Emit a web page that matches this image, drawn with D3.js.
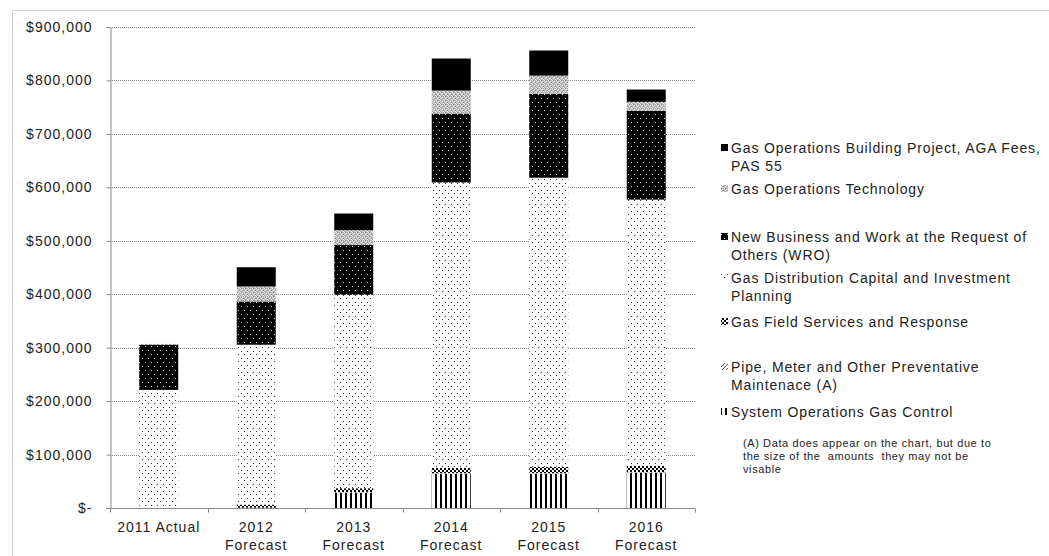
<!DOCTYPE html>
<html><head><meta charset="utf-8">
<script src="https://cdn.jsdelivr.net/npm/d3@7"></script>
<style>
html,body{margin:0;padding:0;background:#fff;}
svg{display:block;font-family:"Liberation Sans",Arial,sans-serif;}
</style></head>
<body><svg id="c" width="1049" height="556"></svg>
<script>
// ---- data ----
const categories = ["2011 Actual", "2012 Forecast", "2013 Forecast", "2014 Forecast", "2015 Forecast", "2016 Forecast"];
const systemOpsGasControl   = [0,      0,      29000,  64000,  64000,  66000];
const pipeMeterMaintenance  = [0,      500,    1000,   1000,   1000,   1000];
const gasFieldServices      = [0,      6000,   7000,   10000,  12000,  12000];
const gasDistributionCapital= [221000, 299000, 362000, 534000, 541000, 498000];
const newBusinessWRO        = [84000,  81000,  93000,  129000, 157000, 166000];
const gasOpsTechnology      = [2000,   28000,  28000,  43000,  34000,  17000];
const gasOpsBuilding        = [0,      36000,  31000,  60000,  47000,  23000];
const yTicks = [0, 100000, 200000, 300000, 400000, 500000, 600000, 700000, 800000, 900000];
const seriesNames = [
  "System Operations Gas Control",
  "Pipe, Meter and Other Preventative Maintenace (A)",
  "Gas Field Services and Response",
  "Gas Distribution Capital and Investment Planning",
  "New Business and Work at the Request of Others (WRO)",
  "Gas Operations Technology",
  "Gas Operations Building Project, AGA Fees, PAS 55"
];
const seriesValues = [systemOpsGasControl, pipeMeterMaintenance, gasFieldServices, gasDistributionCapital, newBusinessWRO, gasOpsTechnology, gasOpsBuilding];
const noteLines = ["(A) Data does appear on the chart, but due to", "the size of the  amounts  they may not be", "visable"];

// ---- build ----
const svg = d3.select("#c");
const defs = svg.append("defs");
const pid = ["pSys","pPipe","pField","pDist","pWro","pTech","pBldg"];

function pat(id, w, h, bg){ const p = defs.append("pattern").attr("id", id).attr("patternUnits","userSpaceOnUse").attr("width", w).attr("height", h);
  p.append("rect").attr("width", w).attr("height", h).attr("fill", bg); return p; }
let p;
p = pat("pSys", 5, 5, "#fff"); p.append("rect").attr("x",0).attr("y",0).attr("width",2).attr("height",5).attr("fill","#000");
p = pat("pPipe", 4, 4, "#fff"); p.append("path").attr("d","M0,4L4,0").attr("stroke","#555").attr("stroke-width",1);
p = pat("pField", 4, 4, "#fff"); p.append("rect").attr("width",2).attr("height",2).attr("fill","#000"); p.append("rect").attr("x",2).attr("y",2).attr("width",2).attr("height",2).attr("fill","#000");
p = pat("pDist", 6, 7, "#fff"); p.append("rect").attr("x",1).attr("y",1).attr("width",1).attr("height",1).attr("fill","#333"); p.append("rect").attr("x",4).attr("y",4).attr("width",1).attr("height",1).attr("fill","#333");
p = pat("pWro", 6, 8, "#000"); p.append("rect").attr("x",1).attr("y",2).attr("width",1).attr("height",1).attr("fill","#ddd"); p.append("rect").attr("x",4).attr("y",6).attr("width",1).attr("height",1).attr("fill","#ddd");
p = pat("pTech", 4, 4, "#b8b8b8");
[[0,0],[2,1],[1,2],[3,3]].forEach(d=>p.append("rect").attr("x",d[0]).attr("y",d[1]).attr("width",1).attr("height",1).attr("fill","#eee"));
[[1,0],[3,2]].forEach(d=>p.append("rect").attr("x",d[0]).attr("y",d[1]).attr("width",1).attr("height",1).attr("fill","#888"));
p = pat("pBldg", 4, 4, "#000");

// outer border
svg.append("rect").attr("x",12.5).attr("y",10.5).attr("width",1040).attr("height",600)
  .attr("fill","none").attr("stroke","#999").attr("stroke-dasharray","1,1");

const x = d3.scaleBand().domain(categories).range([110, 695]).paddingInner(0.6).paddingOuter(0.3);
const y = d3.scaleLinear().domain([0, 900000]).range([508, 27]);

// gridlines
svg.append("g").selectAll("line").data(yTicks.filter(d=>d>0)).join("line")
  .attr("x1",110).attr("x2",695).attr("y1",d=>Math.round(y(d))+0.5).attr("y2",d=>Math.round(y(d))+0.5)
  .attr("stroke","#888").attr("stroke-dasharray","1,1");

// y axis
const yAxis = d3.axisLeft(y).tickValues(yTicks).tickSize(4).tickPadding(12)
  .tickFormat(d => d === 0 ? "$-" : "$" + d3.format(",")(d));
const gy = svg.append("g").attr("transform","translate(110.5,0)").call(yAxis);
gy.select(".domain").attr("stroke","#888");
gy.selectAll(".tick line").attr("stroke","#888");
gy.selectAll(".tick text").attr("font-size","14px").attr("fill","#222").attr("font-family","Liberation Sans, Arial, sans-serif")
  .attr("letter-spacing","1px").attr("x",-18);

// stacked bars
const table = categories.map((c,i)=>{ const o={cat:c}; seriesNames.forEach((s,k)=>o[s]=seriesValues[k][i]); return o; });
const stack = d3.stack().keys(seriesNames)(table);
const gb = svg.append("g");
stack.forEach((layer,k)=>{
  gb.append("g").selectAll("rect").data(layer).join("rect")
    .attr("x", d=>x(d.data.cat)).attr("width", x.bandwidth())
    .attr("y", d=>y(d[1])).attr("height", d=>Math.max(0, y(d[0])-y(d[1])))
    .attr("fill", "url(#"+pid[k]+")");
});

// x axis
const gx = svg.append("g").attr("transform","translate(0,508.5)");
gx.append("line").attr("x1",110).attr("x2",695).attr("stroke","#888");
const bounds = d3.range(categories.length+1).map(i=>110 + i*x.step());
gx.selectAll(".tk").data(bounds).join("line").attr("class","tk")
  .attr("x1",d=>Math.round(d)+0.5).attr("x2",d=>Math.round(d)+0.5).attr("y1",0).attr("y2",4).attr("stroke","#888");
const cl = gx.selectAll(".cl").data(categories).join("text").attr("class","cl")
  .attr("text-anchor","middle").attr("font-size","14px").attr("fill","#222").attr("letter-spacing","1px");
cl.each(function(d){
  const parts = d === "2011 Actual" ? [d] : d.split(" ");
  d3.select(this).selectAll("tspan").data(parts).join("tspan")
    .attr("x", x(d)+x.bandwidth()/2).attr("y",(t,i)=>23+i*18).text(t=>t);
});

// legend
const legendOrder = [6,5,4,3,2,1,0];
const legendLines = {
  6: ["Gas Operations Building Project, AGA Fees,", "PAS 55"],
  5: ["Gas Operations Technology"],
  4: ["New Business and Work at the Request of", "Others (WRO)"],
  3: ["Gas Distribution Capital and Investment", "Planning"],
  2: ["Gas Field Services and Response"],
  1: ["Pipe, Meter and Other Preventative", "Maintenace (A)"],
  0: ["System Operations Gas Control"]
};
const legendY = {6:148, 5:189, 4:237, 3:278, 2:322, 1:367, 0:412};
const gl = svg.append("g");
legendOrder.forEach(k=>{
  const cy = legendY[k];
  gl.append("rect").attr("x",721).attr("y",cy-4).attr("width",7).attr("height",7).attr("fill","url(#"+pid[k]+")");
  const t = gl.append("text").attr("font-size","14px").attr("fill","#222").attr("letter-spacing","0.85px");
  legendLines[k].forEach((ln,i)=>t.append("tspan").attr("x",731).attr("y",cy+5+i*17.5).text(ln));
});
const nt = svg.append("text").attr("font-size","11px").attr("fill","#222").attr("letter-spacing","0.6px");
noteLines.forEach((ln,i)=>nt.append("tspan").attr("x",743).attr("y",447+i*13).style("white-space","pre").text(ln));
</script>
</body></html>
